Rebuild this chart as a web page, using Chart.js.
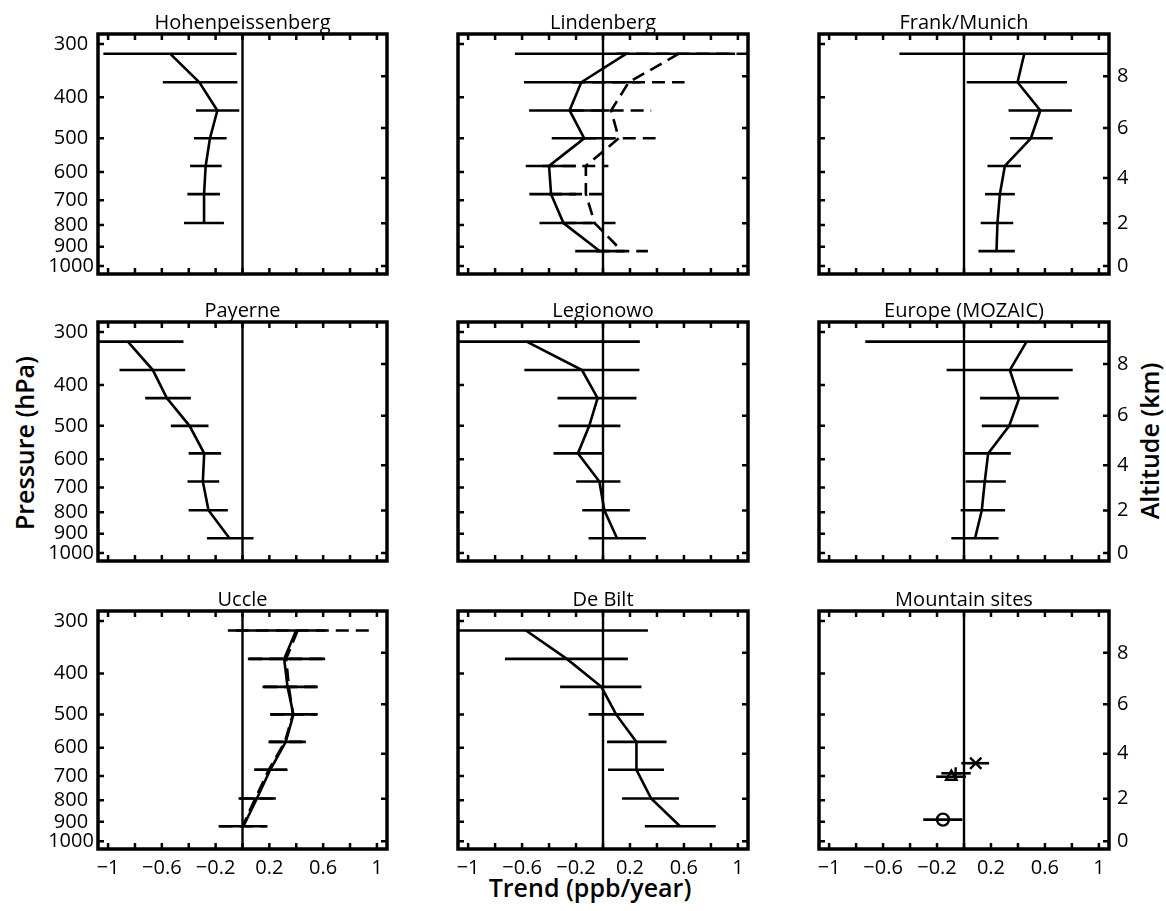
<!DOCTYPE html>
<html>
<head>
<meta charset="utf-8">
<script src="https://cdn.jsdelivr.net/npm/chart.js@4.4.1/dist/chart.umd.min.js"></script>
<style>
  body { margin: 0; background: #fff; width: 1166px; height: 911px; position: relative; overflow: hidden; font-family: "Open Sans", sans-serif; }
  canvas { position: absolute; }
  .lab { position: absolute; font-size: 25px; font-weight: 600; color: #000; white-space: nowrap; transform: translate(-50%, -50%); }
  .rot { transform: translate(-50%, -50%) rotate(-90deg); }
</style>
</head>
<body>
<div class="lab rot" style="left:24px; top:443px;">Pressure (hPa)</div>
<div class="lab rot" style="left:1149px; top:441px;">Altitude (km)</div>
<div class="lab" style="left:590px; top:887px;">Trend (ppb/year)</div>
<script>
// pressure levels of the profile points, top -> bottom (hPa)
var levels = [316, 369, 430, 500, 581, 677, 792, 922];

var pressureTicks = [300, 400, 500, 600, 700, 800, 900, 1000];
var altitudeLabels = [0, 2, 4, 6, 8];
var altitudePressure = [1000, 793, 620, 473, 357];
var trendTicks = [-1, -0.8, -0.6, -0.4, -0.2, 0, 0.2, 0.4, 0.6, 0.8, 1];
var trendLabels = [-1, -0.6, -0.2, 0.2, 0.6, 1];

var hohenVal = [-0.539, -0.321, -0.187, -0.242, -0.274, -0.286, -0.286, null];
var hohenLo  = [-1.035, -0.593, -0.346, -0.361, -0.390, -0.410, -0.435, null];
var hohenHi  = [-0.043, -0.038, -0.024, -0.118, -0.155, -0.167, -0.138, null];

var lindVal = [0.174, -0.161, -0.248, -0.139, -0.400, -0.385, -0.293, -0.025];
var lindLo  = [-0.653, -0.586, -0.548, -0.380, -0.573, -0.546, -0.471, -0.206];
var lindHi  = [0.980, 0.278, 0.050, 0.080, -0.200, -0.200, -0.080, 0.160];
var lindDashVal = [0.563, 0.191, 0.060, 0.117, -0.127, -0.127, -0.062, 0.141];
var lindDashLo  = [0.100, -0.230, -0.240, -0.150, -0.450, -0.400, -0.300, -0.050];
var lindDashHi  = [1.300, 0.605, 0.357, 0.390, 0.040, 0.030, 0.124, 0.333];

var frankVal = [0.447, 0.397, 0.566, 0.496, 0.303, 0.266, 0.248, 0.241];
var frankLo  = [-0.479, 0.020, 0.330, 0.342, 0.174, 0.156, 0.124, 0.107];
var frankHi  = [1.300, 0.764, 0.800, 0.658, 0.422, 0.377, 0.365, 0.377];

var payVal = [-0.853, -0.667, -0.563, -0.394, -0.285, -0.295, -0.253, -0.097];
var payLo  = [-1.300, -0.915, -0.724, -0.533, -0.401, -0.409, -0.401, -0.265];
var payHi  = [-0.439, -0.426, -0.384, -0.253, -0.159, -0.173, -0.109, 0.082];

var legVal = [-0.566, -0.156, -0.040, -0.102, -0.186, -0.027, 0.010, 0.104];
var legLo  = [-1.300, -0.583, -0.337, -0.330, -0.367, -0.199, -0.154, -0.107];
var legHi  = [0.273, 0.270, 0.248, 0.129, 0.000, 0.129, 0.199, 0.318];

var mozVal = [0.464, 0.340, 0.409, 0.335, 0.179, 0.154, 0.132, 0.082];
var mozLo  = [-0.732, -0.129, 0.119, 0.132, 0.000, 0.012, -0.025, -0.094];
var mozHi  = [1.300, 0.806, 0.702, 0.553, 0.347, 0.310, 0.305, 0.256];

var uccleVal = [0.399, 0.310, 0.335, 0.379, 0.322, 0.206, 0.107, 0.007];
var uccleLo  = [-0.109, 0.040, 0.149, 0.206, 0.193, 0.087, -0.030, -0.178];
var uccleHi  = [0.620, 0.615, 0.560, 0.560, 0.471, 0.335, 0.248, 0.186];
var uccleDashVal = [0.410, 0.325, 0.345, 0.375, 0.315, 0.195, 0.095, 0.000];
var uccleDashLo  = [-0.050, 0.050, 0.160, 0.210, 0.200, 0.090, -0.020, -0.170];
var uccleDashHi  = [0.980, 0.600, 0.550, 0.550, 0.460, 0.330, 0.240, 0.180];

var biltVal = [-0.571, -0.268, -0.012, 0.097, 0.248, 0.248, 0.357, 0.571];
var biltLo  = [-1.300, -0.727, -0.318, -0.107, 0.030, 0.037, 0.141, 0.310];
var biltHi  = [0.333, 0.184, 0.285, 0.303, 0.471, 0.452, 0.563, 0.836];

// mountain sites: Hohenpeissenberg, Zugspitze, Sonnblick, Jungfraujoch
var mountPress = [889, 703, 690, 653];
var mountVal = [-0.156, -0.094, -0.062, 0.087];
var mountLo  = [-0.302, -0.206, -0.168, -0.020];
var mountHi  = [-0.012, 0.015, 0.050, 0.186];
var mountMarker = ['circle', 'triangle', 'cross', 'crossRot'];

var xMin = -1.075, xMax = 1.075, pTop = 284, pBottom = 1044;

var colX = [0, 400, 780], colW = [400, 380, 386];
var rowY = [0, 290, 580], rowH = [290, 290, 311];
var areaL = [98, 458, 819], areaR = [387, 748, 1109];
var areaT = [34, 322, 611], areaB = [274, 561, 849];

var lineW = 2.6;

function fmt(v) {
  return v < 0 ? '\u2212' + Math.abs(v) : String(v);
}

function profileSets(vals, lo, hi, dash) {
  var sets = [];
  var pts = [];
  for (var i = 0; i < levels.length; i++) {
    if (vals[i] !== null) pts.push({x: vals[i], y: levels[i]});
  }
  sets.push({data: pts, borderColor: '#000', borderWidth: lineW, borderDash: dash, pointRadius: 0});
  for (var j = 0; j < levels.length; j++) {
    if (lo[j] === null) continue;
    sets.push({data: [{x: lo[j], y: levels[j]}, {x: hi[j], y: levels[j]}],
      borderColor: '#000', borderWidth: lineW, borderDash: dash, pointRadius: 0});
  }
  return sets;
}

function zeroLine() {
  return {data: [{x: 0, y: pTop}, {x: 0, y: pBottom}], borderColor: '#000', borderWidth: 2.4, pointRadius: 0};
}

var framePlugin = {
  id: 'frame',
  afterDraw: function(chart) {
    var o = chart.options.plugins.frame;
    var ctx = chart.ctx, a = chart.chartArea;
    var xs = chart.scales.x, ys = chart.scales.y;
    ctx.save();
    ctx.strokeStyle = '#000';
    ctx.fillStyle = '#000';
    ctx.lineWidth = 2.5;
    ctx.beginPath();
    trendTicks.forEach(function(v) {
      var px = xs.getPixelForValue(v);
      ctx.moveTo(px, a.top); ctx.lineTo(px, a.top + 6);
      ctx.moveTo(px, a.bottom); ctx.lineTo(px, a.bottom - 6);
    });
    pressureTicks.forEach(function(p) {
      var py = ys.getPixelForValue(p);
      ctx.moveTo(a.left, py); ctx.lineTo(a.left + 6, py);
    });
    altitudePressure.forEach(function(p) {
      var py = ys.getPixelForValue(p);
      ctx.moveTo(a.right, py); ctx.lineTo(a.right - 6, py);
    });
    ctx.stroke();
    ctx.lineWidth = 3.5;
    ctx.strokeRect(a.left, a.top, a.right - a.left, a.bottom - a.top);

    ctx.font = '20px "Open Sans"';
    ctx.textAlign = 'center';
    ctx.textBaseline = 'alphabetic';
    ctx.fillText(o.title, (a.left + a.right) / 2, a.top - 5);

    ctx.font = '20px "Open Sans"';
    ctx.textBaseline = 'middle';
    if (o.left) {
      ctx.textAlign = 'center';
      pressureTicks.forEach(function(p) {
        ctx.fillText(String(p), a.left - 27, ys.getPixelForValue(p));
      });
    }
    if (o.right) {
      ctx.textAlign = 'left';
      altitudePressure.forEach(function(p, i) {
        ctx.fillText(String(altitudeLabels[i]), a.right + 8, ys.getPixelForValue(p));
      });
    }
    if (o.bottom) {
      ctx.textAlign = 'center';
      trendLabels.forEach(function(v) {
        ctx.fillText(fmt(v), xs.getPixelForValue(v), a.bottom + 19);
      });
    }
    ctx.restore();
  }
};

function makePanel(row, col, title, datasets) {
  var c = document.createElement('canvas');
  c.width = colW[col];
  c.height = rowH[row];
  c.style.left = colX[col] + 'px';
  c.style.top = rowY[row] + 'px';
  document.body.appendChild(c);
  datasets.push(zeroLine());
  new Chart(c.getContext('2d'), {
    type: 'line',
    data: {datasets: datasets},
    options: {
      responsive: false,
      animation: false,
      events: [],
      layout: {padding: {
        left: areaL[col] - colX[col],
        right: colX[col] + colW[col] - areaR[col],
        top: areaT[row] - rowY[row],
        bottom: rowY[row] + rowH[row] - areaB[row]
      }},
      scales: {
        x: {type: 'linear', min: xMin, max: xMax, bounds: 'data', display: false},
        y: {type: 'logarithmic', min: pTop, max: pBottom, reverse: true, bounds: 'data', display: false}
      },
      plugins: {
        legend: {display: false},
        tooltip: {enabled: false},
        frame: {title: title, left: col === 0, right: col === 2, bottom: row === 2}
      }
    },
    plugins: [framePlugin]
  });
}

var dash = [13, 7];

makePanel(0, 0, 'Hohenpeissenberg', profileSets(hohenVal, hohenLo, hohenHi, []));
makePanel(0, 1, 'Lindenberg', profileSets(lindVal, lindLo, lindHi, []).concat(profileSets(lindDashVal, lindDashLo, lindDashHi, dash)));
makePanel(0, 2, 'Frank/Munich', profileSets(frankVal, frankLo, frankHi, []));
makePanel(1, 0, 'Payerne', profileSets(payVal, payLo, payHi, []));
makePanel(1, 1, 'Legionowo', profileSets(legVal, legLo, legHi, []));
makePanel(1, 2, 'Europe (MOZAIC)', profileSets(mozVal, mozLo, mozHi, []));
makePanel(2, 0, 'Uccle', profileSets(uccleVal, uccleLo, uccleHi, []).concat(profileSets(uccleDashVal, uccleDashLo, uccleDashHi, dash)));
makePanel(2, 1, 'De Bilt', profileSets(biltVal, biltLo, biltHi, []));

var mountSets = [];
for (var k = 0; k < mountPress.length; k++) {
  mountSets.push({data: [{x: mountVal[k], y: mountPress[k]}], showLine: false,
    pointStyle: mountMarker[k], pointRadius: mountMarker[k] === 'crossRot' ? 8 : 6, pointBorderWidth: 2.4,
    pointBorderColor: '#000', pointBackgroundColor: 'rgba(0,0,0,0)', borderColor: '#000'});
  mountSets.push({data: [{x: mountLo[k], y: mountPress[k]}, {x: mountHi[k], y: mountPress[k]}],
    borderColor: '#000', borderWidth: lineW, pointRadius: 0});
}
makePanel(2, 2, 'Mountain sites', mountSets);
</script>
</body>
</html>
